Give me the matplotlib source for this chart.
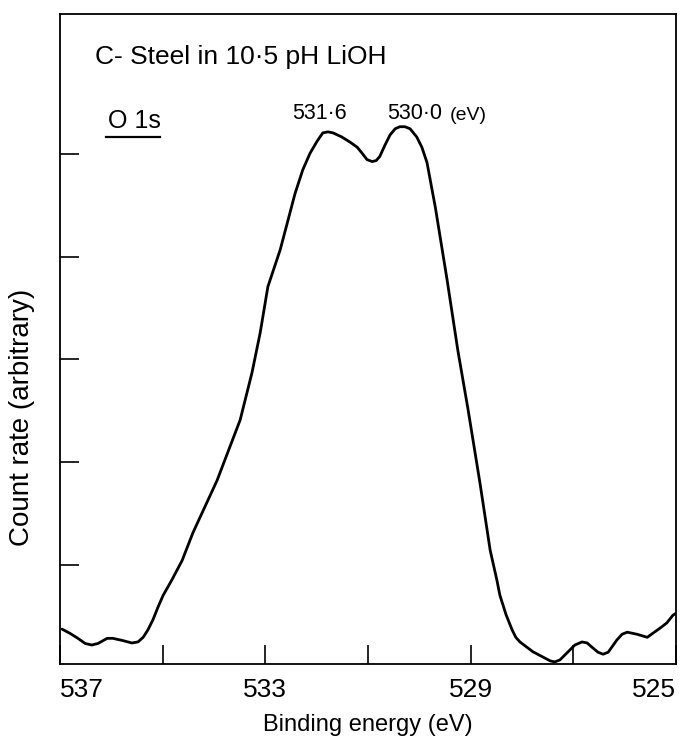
import numpy as np
from matplotlib import pyplot as plt
from matplotlib.lines import Line2D

# O 1s spectrum (binding energy in eV, counts in tick units)
energy = [536.96, 536.81, 536.65, 536.51, 536.38, 536.26, 536.08, 535.97, 535.79,
          535.60, 535.48, 535.38, 535.29, 535.19, 535.09, 534.99, 534.82, 534.62,
          534.41, 533.94, 533.49, 533.26, 533.10, 532.95, 532.71, 532.42, 532.27,
          532.13, 531.99, 531.88, 531.78, 531.68, 531.51, 531.35, 531.21, 531.12,
          531.02, 530.92, 530.84, 530.77, 530.67, 530.57, 530.47, 530.38, 530.28,
          530.18, 530.05, 529.95, 529.85, 529.75, 529.69, 529.46, 529.25, 529.05,
          528.82, 528.62, 528.49, 528.43, 528.31, 528.19, 528.12, 528.04, 527.79,
          527.45, 527.36, 527.26, 527.07, 526.97, 526.83, 526.73, 526.64, 526.52,
          526.42, 526.32, 526.15, 526.05, 525.95, 525.76, 525.56, 525.45, 525.31,
          525.18, 525.06, 525.00]
counts = [0.37, 0.33, 0.28, 0.23, 0.215, 0.23, 0.28, 0.28, 0.26,
          0.235, 0.245, 0.29, 0.36, 0.46, 0.585, 0.70, 0.85, 1.04,
          1.31, 1.82, 2.41, 2.87, 3.26, 3.71, 4.07, 4.62, 4.85,
          5.01, 5.13, 5.21, 5.22, 5.21, 5.17, 5.12, 5.07, 5.015,
          4.95, 4.93, 4.94, 4.98, 5.09, 5.19, 5.25, 5.27, 5.27,
          5.25, 5.17, 5.07, 4.92, 4.65, 4.49, 3.78, 3.09, 2.51,
          1.80, 1.14, 0.85, 0.70, 0.51, 0.36, 0.29, 0.245, 0.15,
          0.06, 0.05, 0.07, 0.165, 0.215, 0.245, 0.235, 0.195, 0.145,
          0.125, 0.145, 0.265, 0.32, 0.34, 0.32, 0.29, 0.33, 0.38,
          0.43, 0.505, 0.525]

x_ticks = [537, 535, 533, 531, 529, 527, 525]
x_labels = ["537", "", "533", "", "529", "", "525"]
y_ticks = [1, 2, 3, 4, 5]
peak_pos = [531.95, 530.62]
peak_text = ["531·6", "530·0"]

plt.rcParams['font.family'] = ['Liberation Sans', 'DejaVu Sans']

fig = plt.figure(figsize=(6.8, 7.38), dpi=100)
ax = fig.add_axes([0.0882, 0.1003, 0.9059, 0.8808])

ax.plot(energy, counts, color='black', lw=2.0, solid_joinstyle='round',
        solid_capstyle='round')

ax.set_xlim(537, 525)
ax.set_ylim(0.03, 6.37)
ax.set_xticks(x_ticks)
ax.set_xticklabels(x_labels)
ax.set_yticks(y_ticks)
ax.set_yticklabels([])
ax.tick_params(axis='both', direction='in', length=14, width=1.2, color='black')
ax.tick_params(axis='x', labelsize=19, pad=10)
labels = ax.get_xticklabels()
labels[0].set_ha('left')
labels[-1].set_ha('right')
for s in ax.spines.values():
    s.set_linewidth(1.3)

ax.set_xlabel("Binding energy (eV)", fontsize=17, labelpad=9)
ax.set_ylabel("Count rate (arbitrary)", fontsize=20)
ax.yaxis.set_label_coords(-0.04, 0.38)

ax.text(0.057, 0.934, "C- Steel in 10·5 pH LiOH", transform=ax.transAxes,
        fontsize=19, ha='left', va='center')
ax.text(0.078, 0.835, "O 1s", transform=ax.transAxes,
        fontsize=18, ha='left', va='center')
ax.add_line(Line2D([0.075, 0.162], [0.811, 0.811], transform=ax.transAxes,
                   color='black', lw=1.6))

ax.text(peak_pos[0], 5.35, peak_text[0], fontsize=15.5, ha='center', va='baseline')
t = ax.text(peak_pos[1], 5.35, peak_text[1], fontsize=15.5, ha='left', va='baseline')
ax.annotate("(eV)", xy=(1, 0), xycoords=t, xytext=(5, 0), textcoords='offset points',
            fontsize=14, ha='left', va='bottom')

fig.savefig("out.png", dpi=100)
